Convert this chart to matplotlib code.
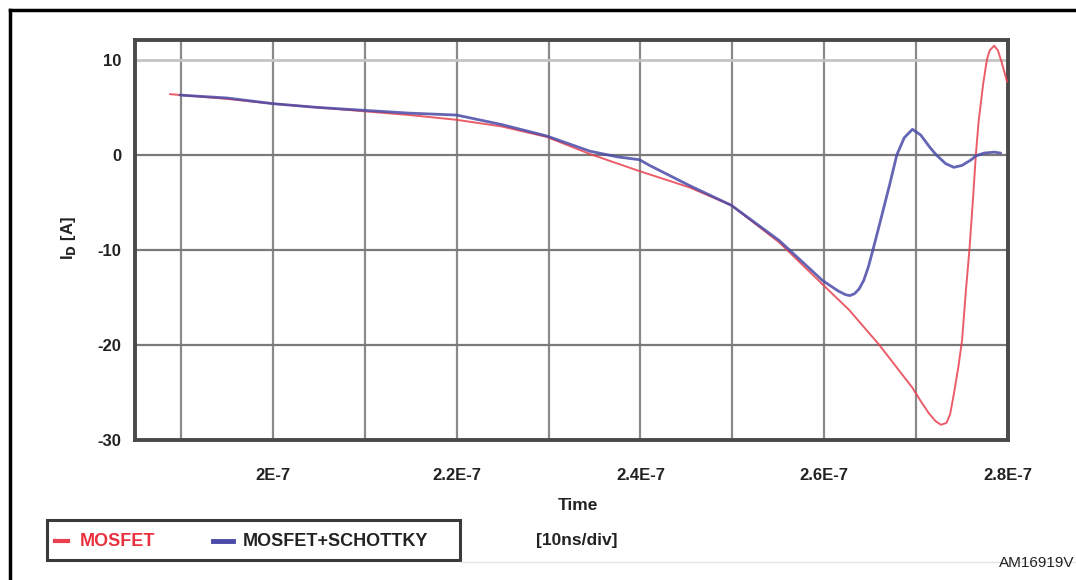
import matplotlib
matplotlib.use("Agg")
import matplotlib.pyplot as plt
from matplotlib.lines import Line2D
from matplotlib.patches import Rectangle

# ---- data (time in ns, current in A) ----
t_mosfet = [188.8, 190.1, 195.0, 200.0, 204.9, 209.9, 214.9, 220.0, 224.9, 229.8,
            234.5, 239.9, 245.3, 249.9, 255.1, 259.8, 262.7, 266.0, 269.6, 270.5,
            271.4, 272.1, 272.7, 273.3, 273.7, 274.1, 274.6, 275.0, 275.4, 275.8,
            276.2, 276.5, 276.8, 277.3, 277.7, 278.0, 278.5, 278.9, 279.3, 279.9]
i_mosfet = [6.4, 6.3, 5.9, 5.4, 5.0, 4.6, 4.2, 3.7, 3.0, 1.9,
            0.1, -1.7, -3.4, -5.3, -9.2, -13.6, -16.3, -20.0, -24.5, -25.9,
            -27.2, -28.0, -28.4, -28.2, -27.3, -25.2, -22.3, -19.5, -14.5, -10.0,
            -4.5, 0.0, 3.5, 7.5, 10.0, 11.0, 11.5, 11.0, 9.8, 7.7]

t_schottky = [189.9, 195.0, 200.0, 204.9, 209.9, 214.9, 220.0, 224.9, 229.8, 234.5,
              237.5, 239.9, 241.0, 245.3, 249.9, 255.1, 259.8, 261.5, 262.3, 262.8,
              263.3, 263.8, 264.3, 264.8, 265.3, 266.1, 267.1, 267.9, 268.7, 269.6,
              270.5, 271.5, 272.2, 273.2, 274.1, 275.0, 276.0, 276.5, 277.4, 278.5,
              279.2]
i_schottky = [6.3, 6.0, 5.4, 5.0, 4.7, 4.4, 4.2, 3.2, 2.0, 0.4,
              -0.2, -0.5, -1.1, -3.2, -5.3, -9.0, -13.2, -14.3, -14.7, -14.8,
              -14.6, -14.1, -13.2, -11.8, -10.0, -7.0, -3.2, 0.0, 1.8, 2.7,
              2.1, 0.8, 0.0, -0.9, -1.3, -1.1, -0.5, -0.1, 0.2, 0.3,
              0.2]

x_ticks = [200, 220, 240, 260, 280]
x_tick_labels = ["2E-7", "2.2E-7", "2.4E-7", "2.6E-7", "2.8E-7"]
y_ticks = [10, 0, -10, -20, -30]
y_tick_labels = ["10", "0", "-10", "-20", "-30"]
series_names = ["MOSFET", "MOSFET+SCHOTTKY"]

RED = "#e8404f"
BLUE = "#4a4aa8"

W, H = 1076, 580
fig = plt.figure(figsize=(W / 100, H / 100), dpi=100)
plt.rcParams["font.family"] = ["Liberation Sans", "DejaVu Sans"]

def fx(px):
    return px / W

def fy(py):
    return 1 - py / H

ax = fig.add_axes([fx(135), fy(440), fx(1008) - fx(135), fy(40) - fy(440)])
ax.set_xlim(185, 280)
ax.set_ylim(-30, 12.1)

# grid
for gx in range(190, 280, 10):
    ax.axvline(gx, color="#8a8a8a", lw=1.6, zorder=1)
for gy in [0, -10, -20]:
    ax.axhline(gy, color="#7a7a7a", lw=1.6, zorder=1)
ax.axhline(10, color="#c4c4c4", lw=2.0, zorder=1)

ax.plot(t_mosfet, i_mosfet, color=RED, lw=1.4, alpha=0.85, zorder=3,
        solid_capstyle="round", solid_joinstyle="round")
ax.plot(t_schottky, i_schottky, color=BLUE, lw=2.0, alpha=0.85, zorder=4,
        solid_capstyle="round", solid_joinstyle="round")

for s in ax.spines.values():
    s.set_color("#4a4a4a")
    s.set_linewidth(2.8)

ax.set_xticks(x_ticks)
ax.set_xticklabels(x_tick_labels, fontsize=12, fontweight="bold", color="#222222")
ax.set_yticks(y_ticks)
ax.set_yticklabels(y_tick_labels, fontsize=12, fontweight="bold", color="#222222")
ax.tick_params(length=0, pad=10)
ax.tick_params(axis="x", pad=20)

fig.text(fx(68), fy(238), r"I$_\mathbf{D}$ [A]", rotation=90, ha="center", va="center",
         fontsize=12, fontweight="bold", color="#222222")
fig.text(fx(578), fy(506), "Time", ha="center", va="center",
         fontsize=12.5, fontweight="bold", color="#222222")
fig.text(fx(577), fy(541), "[10ns/div]", ha="center", va="center",
         fontsize=12.5, fontweight="bold", color="#222222")

# legend box
fig.add_artist(Rectangle((fx(47), fy(560)), fx(460) - fx(47), fy(520) - fy(560),
                         transform=fig.transFigure, fill=False,
                         edgecolor="#3a3a3a", lw=2.2))
fig.add_artist(Line2D([fx(55), fx(68)], [fy(541), fy(541)], color=RED, lw=3,
                      transform=fig.transFigure))
fig.text(fx(80), fy(541), series_names[0], ha="left", va="center",
         fontsize=13, fontweight="bold", color="#e8303f")
fig.add_artist(Line2D([fx(213), fx(233)], [fy(541), fy(541)], color=BLUE, lw=3.5,
                      transform=fig.transFigure))
fig.text(fx(243), fy(541), series_names[1], ha="left", va="center",
         fontsize=13, fontweight="bold", color="#222222")

# outer frame
fig.add_artist(Line2D([fx(10), 1.0], [fy(10), fy(10)], color="black", lw=2.5,
                      transform=fig.transFigure))
fig.add_artist(Line2D([fx(10), fx(10)], [fy(10), 0.0], color="black", lw=2.5,
                      transform=fig.transFigure))
fig.add_artist(Line2D([fx(460), 1.0], [fy(562), fy(562)], color="#e4e4e4", lw=1.0,
                      transform=fig.transFigure))

fig.text(fx(1074), fy(563), "AM16919V", ha="right", va="center",
         fontsize=11, color="#222222")

fig.savefig("out.png", dpi=100)
